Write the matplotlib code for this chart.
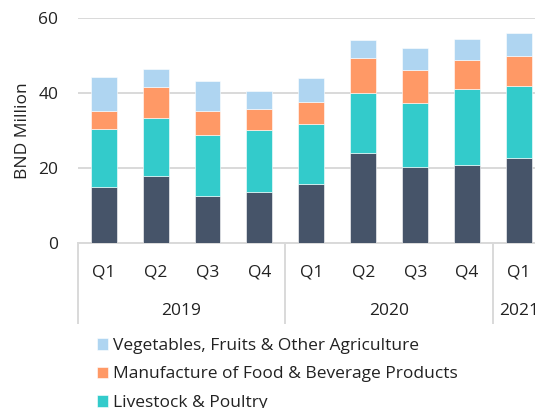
import matplotlib
matplotlib.use("Agg")
import matplotlib.pyplot as plt
import numpy as np

plt.rcParams['font.family'] = ['Open Sans', 'DejaVu Sans']

# quarters and years (multi-level category axis)
quarters = ['Q1', 'Q2', 'Q3', 'Q4', 'Q1', 'Q2', 'Q3', 'Q4', 'Q1']
years = ['2019', '2020', '2021']
year_span = [4, 4, 1]

# BND million
fishery = [15.0, 17.8, 12.6, 13.6, 15.8, 23.9, 20.3, 20.9, 22.7]
livestock = [15.3, 15.5, 16.1, 16.5, 16.0, 16.0, 17.1, 20.1, 19.3]
food_bev = [5.0, 8.4, 6.6, 5.7, 5.9, 9.6, 8.9, 7.9, 7.8]
veg_fruit = [9.0, 4.7, 7.9, 4.8, 6.3, 4.7, 5.7, 5.5, 6.3]

labels = ['Fishery', 'Livestock & Poultry',
          'Manufacture of Food & Beverage Products',
          'Vegetables, Fruits & Other Agriculture']
colors = ['#465469', '#33CBCB', '#FF9966', '#AFD5F1']

FS = 12.5
TXT = '#222222'

fig = plt.figure(figsize=(5.35, 4.08), dpi=100)
W, H = 535.0, 408.0
# axes runs slightly past the right edge, like the cropped original
ax = fig.add_axes([77.7 / W, 1 - 242.7 / H, (545 - 77.7) / W, (242.7 - 18.3) / H])

x = np.arange(len(quarters))
series = [fishery, livestock, food_bev, veg_fruit]
bottom = np.zeros(len(quarters))
handles = []
for vals, lab, col in zip(series, labels, colors):
    b = ax.bar(x, vals, width=0.5, bottom=bottom, color=col, label=lab,
               edgecolor='white', linewidth=0.4, zorder=3)
    handles.append(b)
    bottom = bottom + np.array(vals)

ax.set_xlim(-0.5, len(quarters) - 0.5)
ax.set_ylim(0, 60)
ax.set_yticks([0, 20, 40, 60])
ax.yaxis.grid(True, color='#d9d9d9', linewidth=1.4, zorder=0)
ax.tick_params(axis='y', length=0, pad=14, labelsize=FS, labelcolor=TXT)
ax.set_ylabel('BND Million', fontsize=FS, color=TXT)
ax.yaxis.set_label_coords(-0.10, 0.5)

for s in ['left', 'right', 'top']:
    ax.spines[s].set_visible(False)
ax.spines['bottom'].set_color('#d9d9d9')
ax.spines['bottom'].set_linewidth(1.4)

ax.set_xticks(x)
ax.set_xticklabels([])
ax.tick_params(axis='x', length=0)

# quarter labels
for i, q in enumerate(quarters):
    ax.annotate(q, xy=(i, 0), xycoords=('data', 'axes fraction'),
                xytext=(0, -30 * 0.72), textcoords='offset points',
                ha='center', va='center', fontsize=FS, color=TXT)

# year labels and separators
start = 0
for yr, n in zip(years, year_span):
    mid = start + (n - 1) / 2.0
    ax.annotate(yr, xy=(mid, 0), xycoords=('data', 'axes fraction'),
                xytext=(0, -68 * 0.72), textcoords='offset points',
                ha='center', va='center', fontsize=FS, color=TXT)
    start += n
edges = [-0.5] + list(np.cumsum(year_span) - 0.5)
for e in edges:
    ax.plot([e, e], [0, -80 / (242.7 - 18.3)], color='#d9d9d9', linewidth=1.4,
            transform=ax.get_xaxis_transform(), clip_on=False)

# legend stacked below, last entry falls off the bottom
leg = fig.legend(handles[::-1], labels[::-1], loc='upper left',
                 bbox_to_anchor=(90 / W, 1 - 331 / H), frameon=False,
                 fontsize=FS, handlelength=0.65, handleheight=0.65,
                 handletextpad=0.3, labelspacing=0.72, borderaxespad=0)
for t in leg.get_texts():
    t.set_color(TXT)

fig.savefig('out.png', dpi=100)
